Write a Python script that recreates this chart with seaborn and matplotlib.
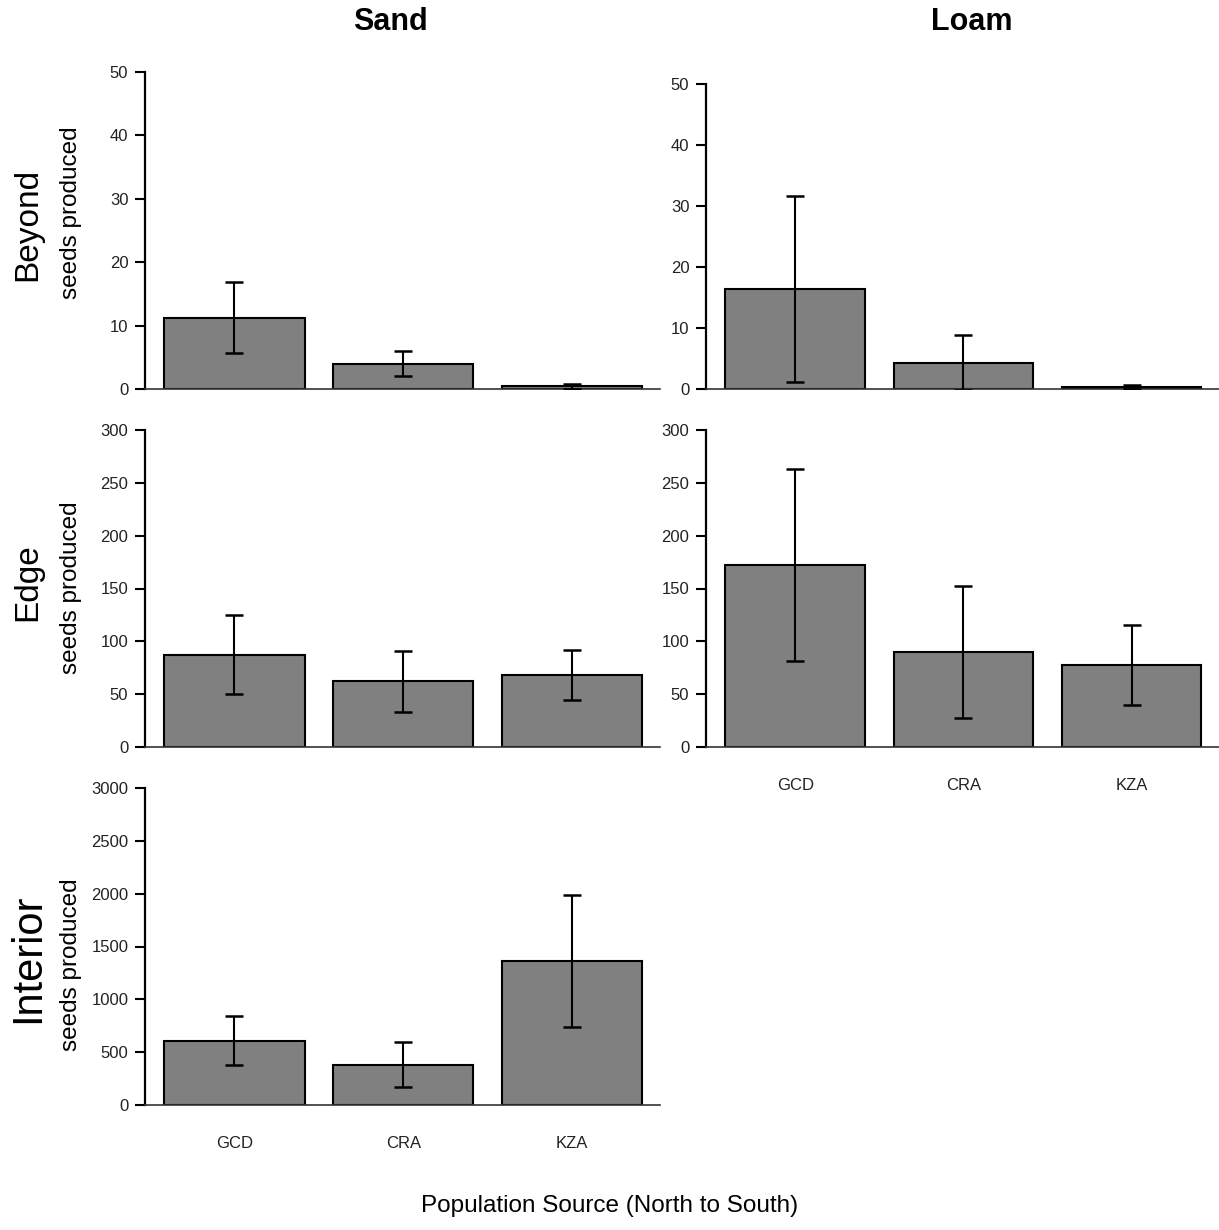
import numpy as np
import pandas as pd
import matplotlib
matplotlib.use("Agg")
import matplotlib.pyplot as plt
import seaborn as sns

# population sources, north to south
sources = ["GCD", "CRA", "KZA"]

# mean seeds produced and standard errors
sand_beyond = [11.2, 4.0, 0.4]
sand_beyond_se = [5.6, 2.0, 0.35]
loam_beyond = [16.4, 4.3, 0.3]
loam_beyond_se = [15.3, 4.5, 0.3]

sand_edge = [87.5, 62.3, 68.0]
sand_edge_se = [37.3, 29.0, 23.6]
loam_edge = [172.5, 89.7, 77.5]
loam_edge_se = [91.0, 62.5, 37.8]

sand_interior = [606, 382, 1364]
sand_interior_se = [232, 213, 625]

soil_titles = ["Sand", "Loam"]
zone_labels = ["Beyond", "Edge", "Interior"]

W, H = 1219, 1230

sns.set_style("ticks")
plt.rcParams["font.family"] = ["Liberation Sans", "DejaVu Sans"]
plt.rcParams["text.color"] = "black"
plt.rcParams["xtick.color"] = "black"
plt.rcParams["ytick.color"] = "black"
plt.rcParams["axes.labelcolor"] = "black"

fig = plt.figure(figsize=(W / 100, H / 100), dpi=100)


def px_axes(x0, x1, y_top, y_bot):
    return fig.add_axes([x0 / W, 1 - y_bot / H, (x1 - x0) / W, (y_bot - y_top) / H])


def draw_panel(ax, means, se, ymax, step, show_x):
    df = pd.DataFrame({"source": sources, "seeds": means})
    sns.barplot(data=df, x="source", y="seeds", ax=ax, color="#808080",
                saturation=1, edgecolor="black", linewidth=1.5, width=0.83)
    ax.errorbar(np.arange(len(means)), means, yerr=se, fmt="none",
                ecolor="black", elinewidth=1.5, capsize=6.5, capthick=1.8, zorder=5)
    ax.set_xlim(-0.53, 2.52)
    ax.set_ylim(0, ymax)
    ax.set_yticks(np.arange(0, ymax + 1, step))
    ax.set_xlabel("")
    ax.set_ylabel("")
    sns.despine(ax=ax)
    ax.spines["left"].set_linewidth(1.6)
    ax.spines["left"].set_color("black")
    ax.spines["bottom"].set_linewidth(1.2)
    ax.spines["bottom"].set_color("#333333")
    ax.tick_params(axis="y", length=7, width=1.5, pad=5, labelsize=12,
                   colors="black", labelcolor="#222222")
    ax.tick_params(axis="x", length=0, pad=22, labelsize=12, labelbottom=show_x,
                   labelcolor="#222222")


left_x = (145, 660)
right_x = (706, 1219)

ax = px_axes(*left_x, 72, 389)
draw_panel(ax, sand_beyond, sand_beyond_se, 50, 10, False)
ax = px_axes(*right_x, 84, 389)
draw_panel(ax, loam_beyond, loam_beyond_se, 50, 10, False)

ax = px_axes(*left_x, 430, 747)
draw_panel(ax, sand_edge, sand_edge_se, 300, 50, False)
ax = px_axes(*right_x, 430, 747)
draw_panel(ax, loam_edge, loam_edge_se, 300, 50, True)

ax = px_axes(*left_x, 788, 1105)
draw_panel(ax, sand_interior, sand_interior_se, 3000, 500, True)

# column titles
fig.text(390 / W, 1 - 22 / H, soil_titles[0], ha="center", va="center",
         fontsize=22, fontweight="bold")
fig.text(972 / W, 1 - 22 / H, soil_titles[1], ha="center", va="center",
         fontsize=22, fontweight="bold")

# row labels
label_pos = [(224, 213), (582, 588), (958, 965)]
label_size = [24, 24, 30]
for name, (yz, ys), fs in zip(zone_labels, label_pos, label_size):
    fig.text(28 / W, 1 - yz / H, name, rotation=90, ha="center", va="center", fontsize=fs)
    fig.text(71 / W, 1 - ys / H, "seeds produced", rotation=90, ha="center",
             va="center", fontsize=17.5)

fig.text(610 / W, 1 - 1206 / H, "Population Source (North to South)",
         ha="center", va="center", fontsize=17.5)

fig.savefig("out.png", dpi=100)
